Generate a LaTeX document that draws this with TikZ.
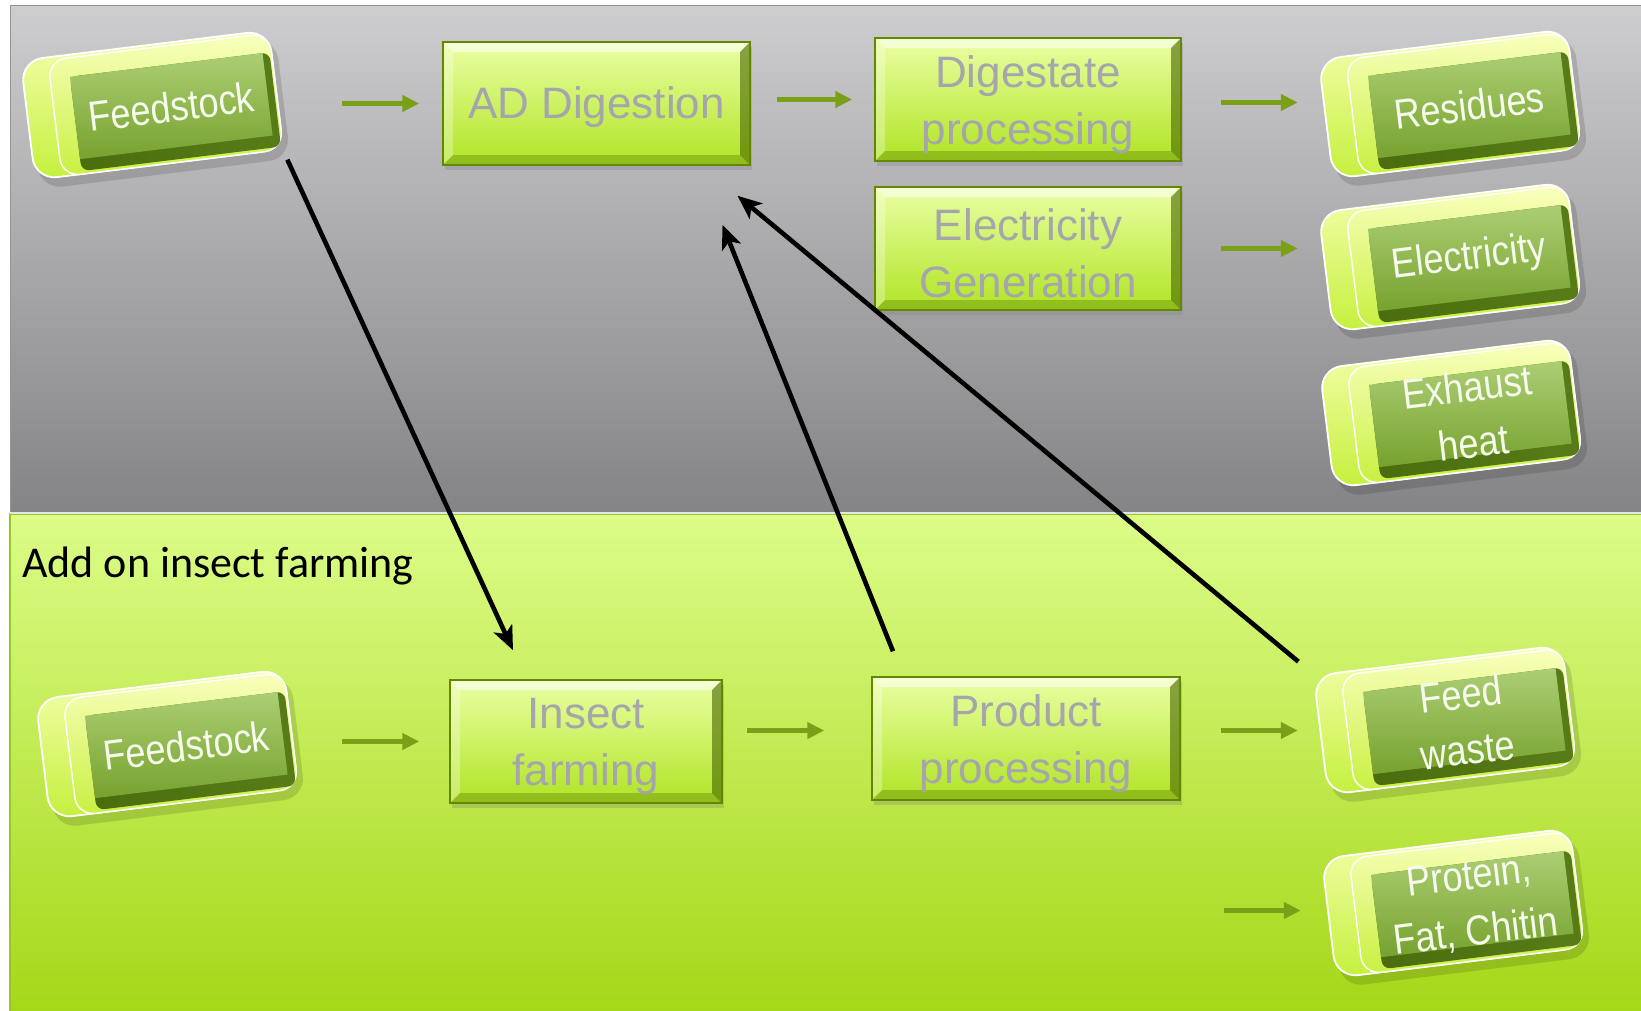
\documentclass[tikz,border=0pt]{standalone}
\usepackage{fontspec}
\setmainfont{Liberation Sans}
\newfontfamily\calfont{Carlito}
\newfontfamily\keyfont[FakeStretch=0.86]{Liberation Sans}
\usetikzlibrary{arrows.meta,calc,shadows}
\definecolor{grayTop}{RGB}{205,205,207}
\definecolor{grayBot}{RGB}{132,132,134}
\definecolor{grayBorder}{RGB}{150,150,150}
\definecolor{grnTop}{RGB}{220,252,136}
\definecolor{grnMid}{RGB}{204,240,100}
\definecolor{grnBot}{RGB}{163,214,20}
\definecolor{grnBorder}{RGB}{150,200,30}
\definecolor{pbTop}{RGB}{234,255,164}
\definecolor{pbBot}{RGB}{176,228,36}
\definecolor{pbBorder}{RGB}{100,135,0}
\definecolor{pbDark}{RGB}{70,100,0}
\definecolor{pbText}{RGB}{165,165,172}
\definecolor{kOutTop}{RGB}{246,255,176}
\definecolor{kOutBot}{RGB}{196,240,60}
\definecolor{kFrTop}{RGB}{250,255,190}
\definecolor{kFrBot}{RGB}{200,240,64}
\definecolor{kInTop}{RGB}{172,206,116}
\definecolor{kInBot}{RGB}{118,162,46}
\definecolor{kDark}{RGB}{74,108,14}
\definecolor{kText}{RGB}{246,250,236}
\definecolor{gArrow}{RGB}{122,160,24}
\newcommand\kbox[4]{%
\begin{scope}[shift={(#2,#3)},rotate=7]
 \fill[black,opacity=.13,rounded corners=22pt] (-121,-52) rectangle (131,70);
 \shade[top color=kOutTop,bottom color=kOutBot,draw=white,line width=1.8pt,rounded corners=22pt] (-125,-60) rectangle (125,60);
 \shade[top color=kFrTop,bottom color=kFrBot,draw=white,line width=1.4pt,rounded corners=18pt] (-98,-57) rectangle (125,60);
 \shade[left color=kDark,right color=kDark!70!kInBot,rounded corners=8pt] (-78,-38) rectangle (123,57);
 \shade[top color=kInTop,bottom color=kInBot] (-78,-38) rectangle (116,45);
 \node[keytext,rotate=7] (#1) at (19,4) {#4};
\end{scope}}
\begin{document}
\begin{tikzpicture}[x=1pt,y=-1pt,
  procbox/.style={draw=pbBorder,line width=1.5pt,top color=pbTop,bottom color=pbBot,
    inner sep=0pt,
    drop shadow={opacity=.3,shadow xshift=2pt,shadow yshift=-5pt},
    path picture={
      \coordinate (nw) at (path picture bounding box.north west);
      \coordinate (ne) at (path picture bounding box.north east);
      \coordinate (sw) at (path picture bounding box.south west);
      \coordinate (se) at (path picture bounding box.south east);
      \fill[white,opacity=.55] (nw) -- (ne) -- ($(ne)+(-10,10)$) -- ($(nw)+(10,10)$) -- cycle;
      \fill[white,opacity=.3] (nw) -- ($(nw)+(10,10)$) -- ($(sw)+(10,-10)$) -- (sw) -- cycle;
      \fill[pbDark,opacity=.6] (ne) -- (se) -- ($(se)+(-10,-10)$) -- ($(ne)+(-10,10)$) -- cycle;
      \fill[pbDark,opacity=.3] (sw) -- (se) -- ($(se)+(-10,-10)$) -- ($(sw)+(10,-10)$) -- cycle;
    }},
  proctext/.style={inner sep=0pt,align=center,text=pbText,font=\fontsize{44}{57}\selectfont},
  keytext/.style={text=kText,inner sep=0pt,align=center,font=\keyfont\fontsize{42}{56}\selectfont},
  garrow/.style={line width=5pt,draw=gArrow,-{Triangle[length=17pt,width=16pt]}},
  barrow/.style={line width=4.6pt,draw=black,-{Stealth[length=24pt,width=20pt,inset=6pt]}},
  title/.style={anchor=base west,inner sep=0pt,text=black,font=\calfont\fontsize{44}{50}\selectfont}
]
\useasboundingbox (0,0) rectangle (1641,1010);
% panels
\shade[top color=grayTop,bottom color=grayBot,draw=grayBorder,line width=1pt] (10,5) rectangle (1660,513);
\shade[top color=grnTop,middle color=grnMid,bottom color=grnBot,draw=grnBorder,line width=1.5pt] (10,514) rectangle (1660,1030);
\draw[white!80!gray,line width=2pt] (10,512.5) -- (1660,512.5);
\node[title] (addon) at (22,577) {Add on insect farming};
% 3D key boxes
\kbox{feed1}{152}{105}{Feedstock}
\kbox{res}{1450}{104}{Residues}
\kbox{elec}{1450}{257}{Electricity}
\kbox{heat}{1451}{413}{Exhaust\\heat}
\kbox{feed2}{167}{744}{Feedstock}
\kbox{fw}{1445}{720}{Feed\\waste}
\kbox{prot}{1453}{903}{Protein,\\Fat, Chitin}
% process boxes
\node[procbox,minimum width=307pt,minimum height=123pt] (ad) at (596.5,103.5) {};
\node[procbox,minimum width=306pt,minimum height=123pt] (dig) at (1028,99.5) {};
\node[procbox,minimum width=306pt,minimum height=123pt] (elg) at (1028,248.5) {};
\node[procbox,minimum width=272pt,minimum height=123pt] (ins) at (586,741.5) {};
\node[procbox,minimum width=308pt,minimum height=123pt] (prod) at (1026,738.5) {};
\node[proctext] (adT) at ($(ad)+(0,4)$) {AD Digestion};
\node[proctext] (digT) at ($(dig)+(0,5)$) {Digestate\\processing};
\node[proctext] (elgT) at ($(elg)+(0,5)$) {Electricity\\Generation};
\node[proctext] (insT) at ($(ins)+(0,5)$) {Insect\\farming};
\node[proctext] (prodT) at ($(prod)+(0,5)$) {Product\\processing};
% green arrows
\draw[garrow] ($(ad.west)+(-100,0)$) -- ($(ad.west)+(-23,0)$);
\draw[garrow] ($(dig.west)+(-97,0)$) -- ($(dig.west)+(-22,0)$);
\draw[garrow] ($(dig.east)+(39,3)$) -- ($(dig.east)+(116,3)$);
\draw[garrow] ($(elg.east)+(39,0)$) -- ($(elg.east)+(116,0)$);
\draw[garrow] ($(ins.west)+(-107,0)$) -- ($(ins.west)+(-30,0)$);
\draw[garrow] ($(prod.west)+(-124,-8)$) -- ($(prod.west)+(-47,-8)$);
\draw[garrow] ($(prod.east)+(40,-8)$) -- ($(prod.east)+(117,-8)$);
\draw[garrow] ($(prod.east)+(43,172)$) -- ($(prod.east)+(120,172)$);
% black arrows
\draw[barrow] ($(feed1)+(116,53)$) -- ($(ins.north)+(-73,-29)$);
\draw[barrow] ($(prod.north)+(-133,-25)$) -- ($(ad.south)+(126,59)$);
\draw[barrow] ($(fw)+(-166,-60)$) -- ($(ad.south)+(141,30)$);
\end{tikzpicture}
\end{document}
